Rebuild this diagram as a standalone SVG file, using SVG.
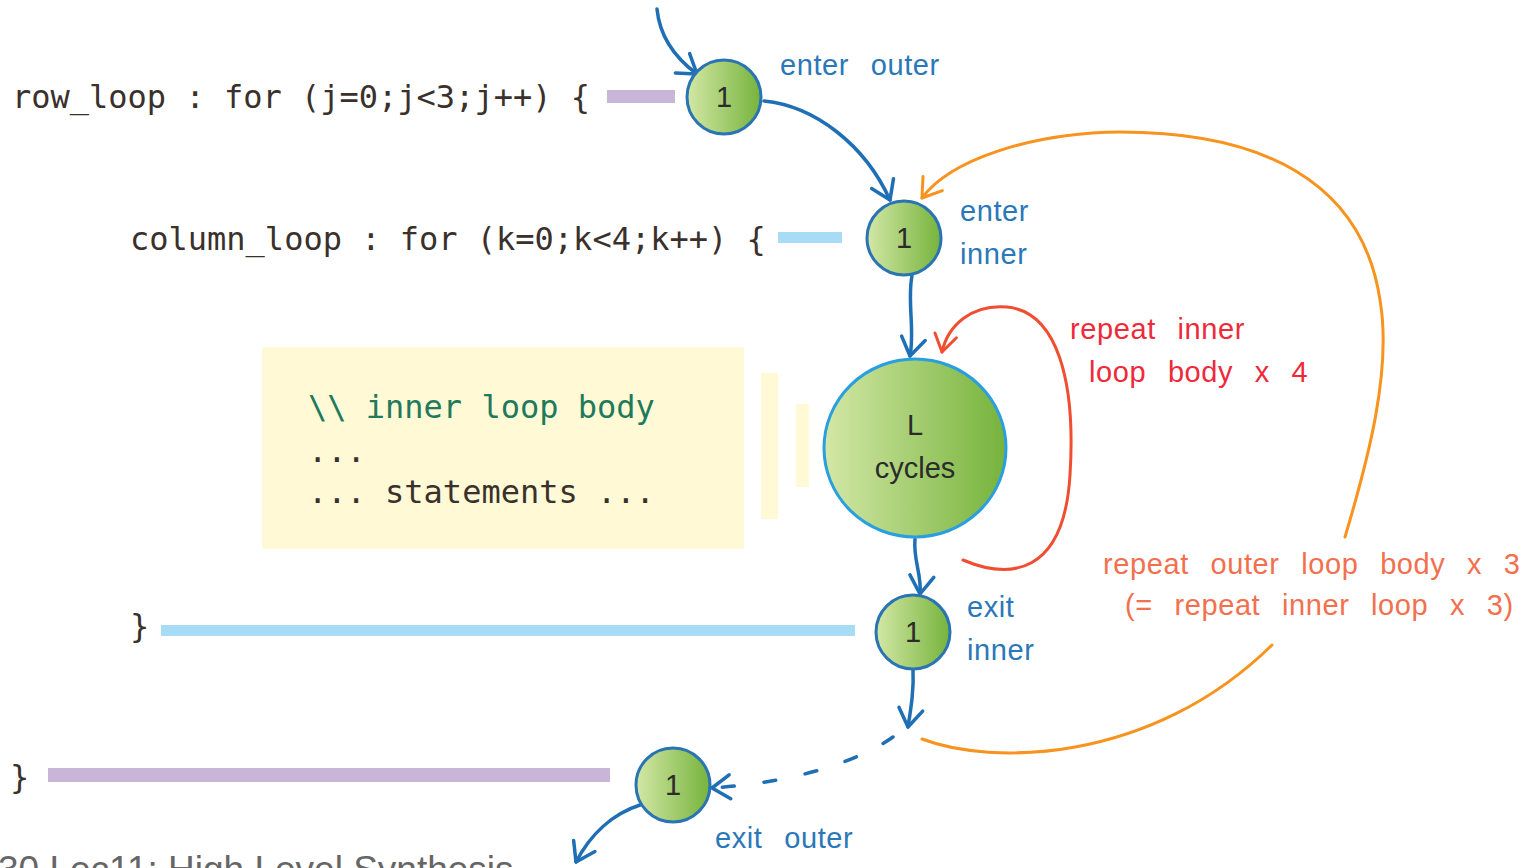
<svg xmlns="http://www.w3.org/2000/svg" width="1536" height="868" viewBox="0 0 1536 868">
<style>
.code{font-family:"DejaVu Sans Mono","Liberation Mono",monospace;font-size:32px;fill:#3a302c}
.cm{fill:#1f7a5c}
.lbl{font-family:"Liberation Sans",Arial,sans-serif;font-size:29px;word-spacing:13px;letter-spacing:0.6px}
.blue{fill:#2a78b8}
.red{fill:#ee2a3a}
.orn{fill:#f2704e}
.num{font-family:"Liberation Sans",Arial,sans-serif;font-size:29px;fill:#2b2b2b;text-anchor:middle}
.node{fill:url(#g);stroke:#2a74b4;stroke-width:3}
.bl{fill:none;stroke:#1f6fb5;stroke-width:3.5;stroke-linecap:round}
.or{fill:none;stroke:#f7931e;stroke-width:3;stroke-linecap:round}
.rd{fill:none;stroke:#f04e30;stroke-width:3;stroke-linecap:round}
</style>
<defs>
<linearGradient id="g" x1="0" y1="0" x2="1" y2="0">
<stop offset="0" stop-color="#d3e8a6"/>
<stop offset="1" stop-color="#76b33c"/>
</linearGradient>
<marker id="ab" viewBox="-22 -15 26 30" refX="0" refY="0" markerWidth="26" markerHeight="30" markerUnits="userSpaceOnUse" orient="auto">
<path d="M-18,-12 L0,0 L-18,12" fill="none" stroke="#1f6fb5" stroke-width="3.5" stroke-linecap="round" stroke-linejoin="round"/>
</marker>
<marker id="ao" viewBox="-22 -15 26 30" refX="0" refY="0" markerWidth="26" markerHeight="30" markerUnits="userSpaceOnUse" orient="auto">
<path d="M-18,-12 L0,0 L-18,12" fill="none" stroke="#f7931e" stroke-width="3" stroke-linecap="round" stroke-linejoin="round"/>
</marker>
<marker id="ar" viewBox="-22 -15 26 30" refX="0" refY="0" markerWidth="26" markerHeight="30" markerUnits="userSpaceOnUse" orient="auto">
<path d="M-17,-11 L0,0 L-17,11" fill="none" stroke="#f04e30" stroke-width="3" stroke-linecap="round" stroke-linejoin="round"/>
</marker>
</defs>
<rect width="1536" height="868" fill="#ffffff"/>

<g id="code">
<text class="code" x="12" y="108">row_loop : for (j=0;j&lt;3;j++) {</text>
<rect x="607" y="90" width="68" height="13" fill="#c9b5d8"/>
<text class="code" x="130" y="250">column_loop : for (k=0;k&lt;4;k++) {</text>
<rect x="778" y="232" width="64" height="11" fill="#a8dcf6"/>
<rect x="262" y="347" width="482" height="202" fill="#fff9d6"/>
<text class="code cm" x="308" y="418">\\ inner loop body</text>
<text class="code" x="308" y="462">...</text>
<text class="code" x="308" y="503">... statements ...</text>
<rect x="761" y="373" width="17" height="146" fill="#fff9d6"/>
<rect x="796" y="404" width="13" height="83" fill="#fff9d6"/>
<text class="code" x="130" y="637">}</text>
<rect x="161" y="625" width="694" height="11" fill="#a8dcf6"/>
<text class="code" x="10" y="788">}</text>
<rect x="48" y="768" width="562" height="14" fill="#c9b5d8"/>
</g>

<g id="connectors">
<path class="bl" d="M657,9 C660,40 678,60 697,74" marker-end="url(#ab)"/>
<path class="bl" d="M764,101 C815,106 865,145 890,200" marker-end="url(#ab)"/>
<path class="bl" d="M912,276 C907,300 915,330 910,356" marker-end="url(#ab)"/>
<path class="bl" d="M915,539 C913,560 922,575 920,594" marker-end="url(#ab)"/>
<path class="bl" d="M913,669 C914,690 911,708 908,727" marker-end="url(#ab)"/>
<path class="bl" d="M893,737 C860,760 800,782 712,788" stroke-dasharray="12,30" marker-end="url(#ab)"/>
<path class="bl" d="M640,805 C612,814 590,835 576,862" marker-end="url(#ab)"/>
<path class="rd" d="M963,560 C1010,580 1064,575 1070,475 C1076,380 1057,312 1007,307 C972,304 948,325 942,352" marker-end="url(#ar)"/>
<path class="or" d="M922,739 C990,765 1150,765 1272,645"/>
<path class="or" d="M1345,537 C1368,460 1392,370 1380,300 C1362,180 1260,132 1120,132 C1030,133 950,160 922,198" marker-end="url(#ao)"/>
</g>

<g id="n-enter-outer">
<circle class="node" cx="724" cy="97" r="37"/>
<text class="num" x="724" y="107">1</text>
</g>
<g id="n-enter-inner">
<circle class="node" cx="904" cy="238" r="37"/>
<text class="num" x="904" y="248">1</text>
</g>
<g id="n-body">
<ellipse cx="915" cy="448" rx="91" ry="89" fill="url(#g)" stroke="#2a9fe0" stroke-width="3"/>
<text class="num" x="915" y="435">L</text>
<text class="num" x="915" y="478">cycles</text>
</g>
<g id="n-exit-inner">
<circle class="node" cx="913" cy="632" r="37"/>
<text class="num" x="913" y="642">1</text>
</g>
<g id="n-exit-outer">
<circle class="node" cx="673" cy="785" r="37"/>
<text class="num" x="673" y="795">1</text>
</g>

<g id="labels">
<text class="lbl blue" x="780" y="75">enter outer</text>
<text class="lbl blue" x="960" y="221">enter</text>
<text class="lbl blue" x="960" y="264">inner</text>
<text class="lbl blue" x="967" y="617">exit</text>
<text class="lbl blue" x="967" y="660">inner</text>
<text class="lbl blue" x="715" y="848">exit outer</text>
<text class="lbl red" x="1070" y="339">repeat inner</text>
<text class="lbl red" x="1089" y="382">loop body x 4</text>
<text class="lbl orn" x="1103" y="574">repeat outer loop body x 3</text>
<text class="lbl orn" x="1125" y="615">(= repeat inner loop x 3)</text>
</g>
<text x="-2" y="882" font-family="Liberation Sans,Arial,sans-serif" font-size="37" fill="#666666">30 Lec11: High Level Synthesis</text>
</svg>
